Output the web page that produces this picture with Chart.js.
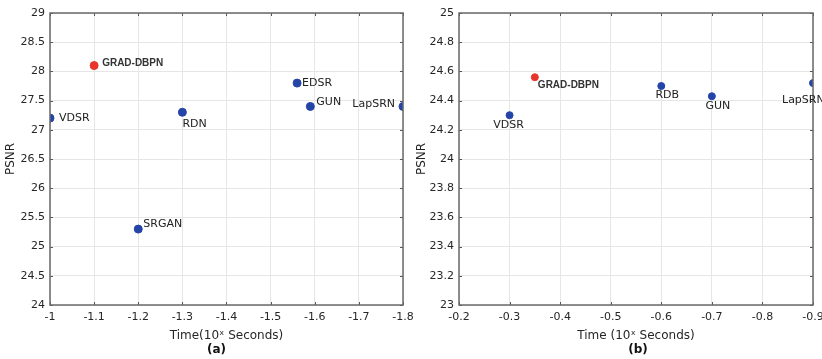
<!DOCTYPE html>
<html>
<head>
<meta charset="utf-8">
<title>PSNR vs Time</title>
<script src="https://cdn.jsdelivr.net/npm/chart.js@4/dist/chart.umd.min.js"></script>
<style>
  body { margin: 0; background: #fff; }
  #wrap { position: relative; width: 822px; height: 359px; overflow: hidden; }
  .box { position: absolute; top: 0; height: 359px; }
  #boxA { left: 0; width: 430px; }
  #boxB { left: 411px; width: 430px; }
</style>
</head>
<body>
<div id="wrap">
  <div class="box" id="boxA"><canvas id="chartA"></canvas></div>
  <div class="box" id="boxB"><canvas id="chartB"></canvas></div>
</div>
<script>
// (a) methods, time exponent, PSNR
const namesA = ['VDSR', 'GRAD-DBPN', 'RDN', 'EDSR', 'GUN', 'LapSRN', 'SRGAN'];
const timeA = [-1, -1.1, -1.3, -1.56, -1.59, -1.8, -1.2];
const psnrA = [27.2, 28.1, 27.3, 27.8, 27.4, 27.4, 25.3];

// (b)
const namesB = ['VDSR', 'GRAD-DBPN', 'RDB', 'GUN', 'LapSRN'];
const timeB = [-0.3, -0.35, -0.6, -0.7, -0.9];
const psnrB = [24.3, 24.56, 24.5, 24.43, 24.52];

const ours = 'GRAD-DBPN';

// label placement next to each point: [dx, dy, align]
const placeA = [[9, 0, 'left'], [8, -2, 'left'], [0, 12, 'left'], [5, 0, 'left'],
                [6, -4, 'left'], [-8, -2, 'right'], [5, -5, 'left']];
const placeB = [[-1, 10, 'center'], [3, 8, 'left'], [6, 9, 'center'],
                [6, 10, 'center'], [-31, 17, 'left']];

const BLUE = '#2444a8';
const RED = '#e8352a';
const FONT = "'DejaVu Sans', sans-serif";

const frame = {
  id: 'frame',
  afterDatasetsDraw(chart, args, opts) {
    const {ctx, chartArea: a, scales} = chart;
    ctx.save();
    // inward tick marks
    ctx.strokeStyle = '#555';
    ctx.lineWidth = 1;
    ctx.beginPath();
    scales.y.ticks.forEach(t => {
      const y = Math.round(scales.y.getPixelForValue(t.value)) + 0.5;
      ctx.moveTo(a.left, y); ctx.lineTo(a.left + 3, y);
      ctx.moveTo(a.right, y); ctx.lineTo(a.right - 3, y);
    });
    scales.x.ticks.forEach(t => {
      const x = Math.round(scales.x.getPixelForValue(t.value)) + 0.5;
      ctx.moveTo(x, a.bottom); ctx.lineTo(x, a.bottom - 3);
      ctx.moveTo(x, a.top); ctx.lineTo(x, a.top + 3);
    });
    ctx.stroke();
    ctx.strokeStyle = '#6a6a6a';
    ctx.lineWidth = 1.5;
    ctx.strokeRect(a.left, a.top, a.right - a.left, a.bottom - a.top);

    // point labels
    const meta = chart.getDatasetMeta(0);
    const ds = chart.data.datasets[0];
    ctx.textBaseline = 'middle';
    meta.data.forEach((pt, i) => {
      const name = ds.names[i];
      const p = ds.place[i];
      const bold = name === ours;
      ctx.font = (bold ? 'bold 10px ' + "'Liberation Sans', Arial, sans-serif" : '11px ' + FONT);
      ctx.fillStyle = bold ? '#333' : '#222';
      ctx.textAlign = p[2];
      ctx.fillText(name, pt.x + p[0], pt.y + p[1]);
    });

    // panel caption
    ctx.font = 'bold 12px ' + FONT;
    ctx.fillStyle = '#111';
    ctx.textAlign = 'center';
    ctx.fillText(opts.caption, (a.left + a.right) / 2 + opts.shift, 350);
    ctx.restore();
  }
};

function makeChart(id, names, xs, ys, place, cfg) {
  const pts = xs.map((x, i) => ({x: x, y: ys[i]}));
  const colors = names.map(n => n === ours ? RED : BLUE);
  return new Chart(document.getElementById(id), {
    type: 'scatter',
    data: {
      datasets: [{
        data: pts,
        names: names,
        place: place,
        pointBackgroundColor: colors,
        pointBorderColor: colors,
        pointRadius: cfg.r,
        pointHoverRadius: cfg.r
      }]
    },
    options: {
      responsive: true,
      maintainAspectRatio: false,
      animation: false,
      events: [],
      layout: { padding: { top: 13, right: cfg.padRight, bottom: 12, left: 0 } },
      plugins: {
        legend: { display: false },
        tooltip: { enabled: false },
        frame: { caption: cfg.caption, shift: cfg.shift }
      },
      scales: {
        x: {
          type: 'linear',
          reverse: true,
          min: cfg.xmin, max: cfg.xmax,
          afterBuildTicks: s => { s.ticks = cfg.xticks.map(v => ({value: v})); },
          afterFit: s => { s.height = 42; },
          grid: { color: '#e6e6e6', drawTicks: false, lineWidth: 1 },
          border: { display: false },
          ticks: { color: '#262626', font: { family: FONT, size: 11 }, padding: 6,
                   callback: v => String(v) },
          title: { display: true, text: cfg.xtitle, color: '#262626',
                   font: { family: FONT, size: 12 }, padding: { top: 2, bottom: 4 } }
        },
        y: {
          min: cfg.ymin, max: cfg.ymax,
          afterBuildTicks: s => { s.ticks = cfg.yticks.map(v => ({value: v})); },
          afterFit: s => { s.width = cfg.yw; },
          grid: { color: '#e6e6e6', drawTicks: false, lineWidth: 1 },
          border: { display: false },
          ticks: { color: '#262626', font: { family: FONT, size: 11 }, padding: 5,
                   callback: v => String(v) },
          title: { display: true, text: 'PSNR', color: '#262626',
                   font: { family: FONT, size: 12 }, padding: { top: 4, bottom: 4 } }
        }
      }
    },
    plugins: [frame]
  });
}

const xticksA = [-1, -1.1, -1.2, -1.3, -1.4, -1.5, -1.6, -1.7, -1.8];
const yticksA = [24, 24.5, 25, 25.5, 26, 26.5, 27, 27.5, 28, 28.5, 29];
const xticksB = [-0.2, -0.3, -0.4, -0.5, -0.6, -0.7, -0.8, -0.9];
const yticksB = [23, 23.2, 23.4, 23.6, 23.8, 24, 24.2, 24.4, 24.6, 24.8, 25];

makeChart('chartA', namesA, timeA, psnrA, placeA, {
  xmin: -1.8, xmax: -1, xticks: xticksA, ymin: 24, ymax: 29, yticks: yticksA,
  xtitle: 'Time(10\u02E3 Seconds)', caption: '(a)', shift: -10,
  yw: 50, padRight: 27, r: 4
});
makeChart('chartB', namesB, timeB, psnrB, placeB, {
  xmin: -0.9, xmax: -0.2, xticks: xticksB, ymin: 23, ymax: 25, yticks: yticksB,
  xtitle: 'Time (10\u02E3 Seconds)', caption: '(b)', shift: 2,
  yw: 48, padRight: 28, r: 3.5
});
</script>
</body>
</html>
